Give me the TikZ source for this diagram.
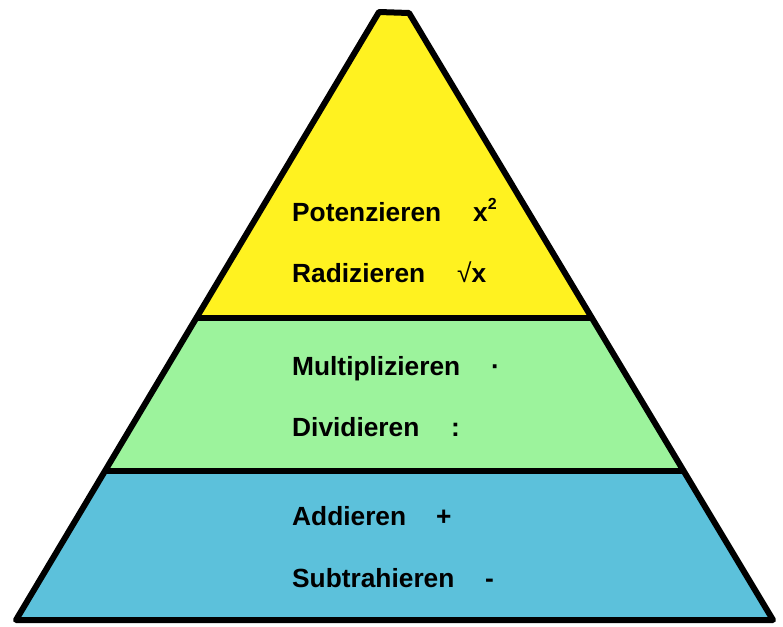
\documentclass[tikz,border=0pt]{standalone}
\usepackage{fontspec}
\setmainfont{Liberation Sans}
\definecolor{topyellow}{RGB}{255,242,32}
\definecolor{midgreen}{RGB}{156,243,156}
\definecolor{lowblue}{RGB}{92,193,219}
\begin{document}
\begin{tikzpicture}[x=1pt,y=-1pt,
  lbl/.style={anchor=base west,inner sep=0pt,font=\fontsize{26.3}{26.3}\selectfont\bfseries},
  outline/.style={line width=6pt,line join=round,line cap=round}]
\useasboundingbox (0,0) rectangle (783,626);
% corners
\coordinate (tl) at (379,12);
\coordinate (tr) at (409,13);
\coordinate (bl) at (16,620);
\coordinate (br) at (773,620);
\coordinate (al) at (197,318);
\coordinate (ar) at (593,318);
\coordinate (bl2) at (106,471);
\coordinate (br2) at (685,471);
% fills
\fill[topyellow] (tl) -- (tr) -- (ar) -- (al) -- cycle;
\fill[midgreen] (al) -- (ar) -- (br2) -- (bl2) -- cycle;
\fill[lowblue] (bl2) -- (br2) -- (br) -- (bl) -- cycle;
% outline
\draw[outline] (tl) -- (tr) -- (br) -- (bl) -- cycle;
\draw[line width=6pt] (al) -- (ar);
\draw[line width=6pt] (bl2) -- (br2);
% labels
\node[lbl] (pot) at (292,221) {Potenzieren};
\node[lbl] (potsym) at (473,221) {x\raisebox{0.42em}{\fontsize{16}{16}\selectfont 2}};
\node[lbl] (rad) at (292,282) {Radizieren};
\node[lbl] (radsym) at (457,282) {{\mdseries √}x};
\node[lbl] (mul) at (292,375) {Multiplizieren};
\node[lbl] (mulsym) at (491,375) {·};
\node[lbl] (div) at (292,436) {Dividieren};
\node[lbl] (divsym) at (451,436) {:};
\node[lbl] (add) at (292,525) {Addieren};
\node[lbl] (addsym) at (436,525) {+};
\node[lbl] (sub) at (292,587) {Subtrahieren};
\node[lbl] (subsym) at (485,587) {-};
\end{tikzpicture}
\end{document}
